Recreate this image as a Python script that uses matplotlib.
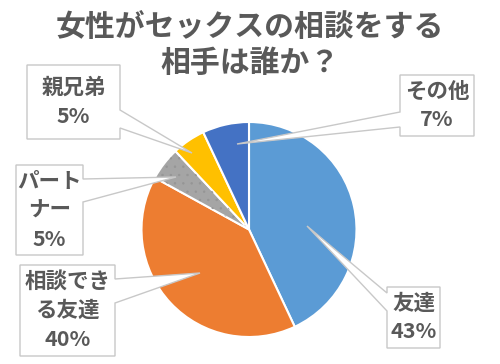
import matplotlib
matplotlib.use("Agg")
import matplotlib.pyplot as plt
from matplotlib.patches import Polygon, Wedge

plt.rcParams['font.family'] = ['Noto Sans CJK JP', 'DejaVu Sans']
plt.rcParams['hatch.linewidth'] = 0.5

title = "女性がセックスの相談をする\n相手は誰か？"
categories = ["友達", "相談できる友達", "パートナー", "親兄弟", "その他"]
values = [43, 40, 5, 5, 7]
colors = ["#5B9BD5", "#ED7D31", "#A5A5A5", "#FFC000", "#4472C4"]
label_lines = [["友達"], ["相談でき", "る友達"], ["パート", "ナー"], ["親兄弟"], ["その他"]]

W, H = 500, 364
fig = plt.figure(figsize=(W / 100, H / 100), dpi=100)
ax = fig.add_axes([0, 0, 1, 1])

def Y(y):
    return H - y

cx, cy, R = 249, 229.5, 107.5
wedges, _ = ax.pie(values, colors=colors, startangle=90, counterclock=False,
                   center=(cx, Y(cy)), radius=R,
                   wedgeprops=dict(edgecolor="white", linewidth=1.5))
# dotted texture on the gray slice
gw = wedges[2]
ax.add_patch(Wedge(gw.center, gw.r - 1, gw.theta1 + 0.5, gw.theta2 - 0.5, facecolor="none",
                   edgecolor="#959595", linewidth=0, hatch="..", zorder=3))

ax.set_xlim(0, W)
ax.set_ylim(0, H)
ax.set_aspect('auto')
ax.axis('off')

TXT = "#595959"
for i, t in enumerate(title.split("\n")):
    fig.text(0.5, Y(27 + 36 * i) / H, t, ha="center", va="center",
             fontsize=21.5, fontweight="bold", color=TXT)

# callout geometry (pixel coords, y downward): box, side, base, tip
callouts = {
    "友達": ((387, 287, 440, 348), "left", (293, 311), (307, 226)),
    "相談できる友達": ((20, 265, 115, 356), "right", (279, 303), (200, 273)),
    "パートナー": ((16, 165, 83, 255), "right", (179, 202), (176, 177)),
    "親兄弟": ((27, 65, 120, 139), "right", (110, 128), (192, 153)),
    "その他": ((400, 75, 474, 136), "left", (112, 127), (237, 144)),
}

def callout_poly(box, side, base, tip):
    x0, y0, x1, y1 = box
    b0, b1 = base
    if side == "right":
        pts = [(x0, y0), (x1, y0), (x1, b0), tip, (x1, b1), (x1, y1), (x0, y1)]
    else:
        pts = [(x0, y0), (x1, y0), (x1, y1), (x0, y1), (x0, b1), tip, (x0, b0)]
    return [(x, Y(y)) for x, y in pts]

LINE = 29
for cat, val, lines in zip(categories, values, label_lines):
    box, side, base, tip = callouts[cat]
    ax.add_patch(Polygon(callout_poly(box, side, base, tip), closed=True,
                         facecolor="white", edgecolor="#C8C8C8", linewidth=1.0,
                         zorder=5))
    all_lines = lines + [f"{val}%"]
    n = len(all_lines)
    bxc = (box[0] + box[2]) / 2
    byc = (box[1] + box[3]) / 2
    for i, t in enumerate(all_lines):
        yy = byc + (i - (n - 1) / 2) * LINE
        ax.text(bxc, Y(yy), t, ha="center", va="center", fontsize=15.5,
                fontweight="bold", color=TXT, zorder=6)

fig.savefig("out.png", dpi=100)
